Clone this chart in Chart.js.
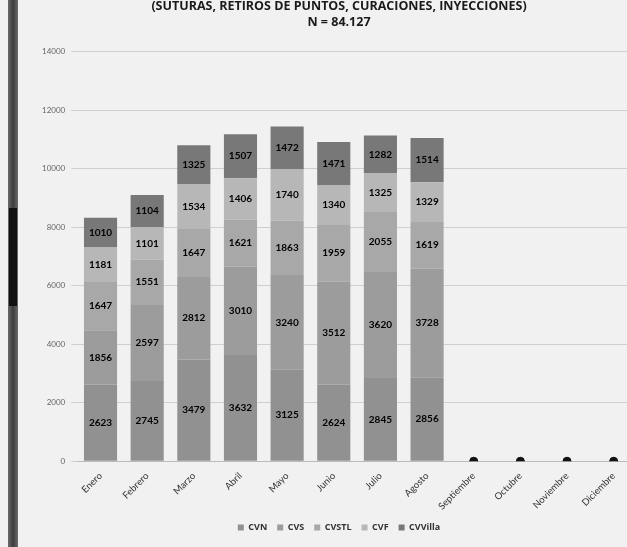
<!DOCTYPE html>
<html>
<head>
<meta charset="utf-8">
<script src="https://cdn.jsdelivr.net/npm/chart.js@4/dist/chart.umd.min.js"></script>
<style>
  html, body { margin: 0; padding: 0; background: #f1f1f1; overflow: hidden; }
  #wrap { position: absolute; left: 0; top: -2px; width: 642px; height: 549px; }
  #strip { position: absolute; left: 8px; top: 0; width: 10px; height: 547px;
           background: linear-gradient(to right, #6a6a6a, #3c3c3c, #6a6a6a); }
  #strip2 { position: absolute; left: 9px; top: 208px; width: 8px; height: 98px; background: #111; }
</style>
</head>
<body>
<div id="wrap"><canvas id="c"></canvas></div>
<div id="strip"></div><div id="strip2"></div>
<script>
const categories = ["Enero","Febrero","Marzo","Abril","Mayo","Junio","Julio","Agosto","Septiembre","Octubre","Noviembre","Diciembre"];
const CVN    = [2623, 2745, 3479, 3632, 3125, 2624, 2845, 2856, null, null, null, null];
const CVS    = [1856, 2597, 2812, 3010, 3240, 3512, 3620, 3728, null, null, null, null];
const CVSTL  = [1647, 1551, 1647, 1621, 1863, 1959, 2055, 1619, null, null, null, null];
const CVF    = [1181, 1101, 1534, 1406, 1740, 1340, 1325, 1329, null, null, null, null];
const CVVilla= [1010, 1104, 1325, 1507, 1472, 1471, 1282, 1514, null, null, null, null];
const emptyMonths = [null, null, null, null, null, null, null, null, 0, 0, 0, 0];
const yTicks = [0, 2000, 4000, 6000, 8000, 10000, 12000, 14000];
const titleLines = ["(SUTURAS, RETIROS DE PUNTOS, CURACIONES, INYECCIONES)", "N = 84.127"];

const labelPlugin = {
  id: 'barLabels',
  afterDatasetsDraw(chart) {
    const ctx = chart.ctx;
    ctx.save();
    ctx.font = 'bold 10px Lato, "DejaVu Sans", sans-serif';
    ctx.fillStyle = '#000';
    ctx.textAlign = 'center';
    ctx.textBaseline = 'middle';
    chart.data.datasets.forEach((ds, i) => {
      if (ds.type === 'line') return;
      const meta = chart.getDatasetMeta(i);
      meta.data.forEach((el, j) => {
        const v = ds.data[j];
        if (v == null) return;
        ctx.fillText(String(v), el.x, (el.y + el.base) / 2);
      });
    });
    ctx.restore();
  }
};

const mk = (label, data, color) => ({ label, data, backgroundColor: color, stack: 's', barPercentage: 0.71, categoryPercentage: 1.0 });

new Chart(document.getElementById('c'), {
  type: 'bar',
  data: {
    labels: categories,
    datasets: [
      mk('CVN', CVN, '#919191'),
      mk('CVS', CVS, '#9c9c9c'),
      mk('CVSTL', CVSTL, '#a8a8a8'),
      mk('CVF', CVF, '#b7b7b7'),
      mk('CVVilla', CVVilla, '#787878'),
      { type: 'line', label: 'zero', data: emptyMonths, stack: 'd', showLine: false,
        pointRadius: 4, pointBackgroundColor: '#111', pointBorderColor: '#111' }
    ]
  },
  options: {
    responsive: true,
    maintainAspectRatio: false,
    animation: false,
    layout: { padding: { left: 36, right: 0, top: 0, bottom: 5 } },
    plugins: {
      title: {
        display: true, text: titleLines, color: '#1a1a1a',
        font: { family: 'Open Sans, Lato, sans-serif', size: 12.5, weight: 'bold', lineHeight: 1.3 },
        padding: { top: 0, bottom: 21 }
      },
      legend: {
        position: 'bottom',
        labels: {
          boxWidth: 6, boxHeight: 6, color: '#333', padding: 10,
          font: { family: 'Open Sans, Lato, sans-serif', size: 9, weight: 'bold' },
          filter: item => item.text !== 'zero'
        }
      },
      tooltip: { enabled: false }
    },
    scales: {
      x: {
        stacked: true,
        grid: { display: false },
        border: { color: '#bbb' },
        ticks: { color: '#333', padding: 1, maxRotation: 45, minRotation: 45,
                 font: { family: 'Lato, sans-serif', size: 9.5 } }
      },
      y: {
        stacked: true, min: 0, max: 14000,
        afterBuildTicks: axis => { axis.ticks = yTicks.map(v => ({ value: v })); },
        grid: { color: '#cfcfcf', drawTicks: true, tickLength: 6 },
        border: { display: false },
        ticks: { color: '#666', padding: 6, font: { family: 'Lato, sans-serif', size: 8 },
                 callback: v => String(v) }
      }
    }
  },
  plugins: [labelPlugin]
});
</script>
</body>
</html>
